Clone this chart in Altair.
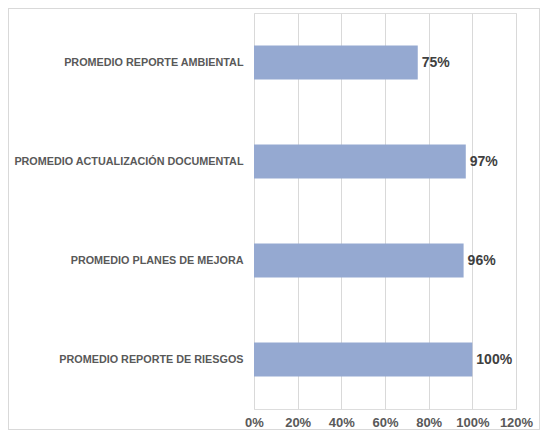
import altair as alt
import pandas as pd

categories = [
    "PROMEDIO REPORTE AMBIENTAL",
    "PROMEDIO ACTUALIZACIÓN DOCUMENTAL",
    "PROMEDIO PLANES DE MEJORA",
    "PROMEDIO REPORTE DE RIESGOS",
]
values = [0.75, 0.97, 0.96, 1.00]
tick_values = [0, 0.2, 0.4, 0.6, 0.8, 1.0, 1.2]

df = pd.DataFrame({"cat": categories, "val": values})

FONT = "Liberation Sans"

x = alt.X(
    "val:Q",
    scale=alt.Scale(domain=[0, 1.2], nice=False, zero=True),
    axis=alt.Axis(
        values=tick_values,
        format=".0%",
        title=None,
        domain=False,
        ticks=False,
        grid=True,
        gridColor="#D9D9D9",
        gridWidth=1,
        labelFont=FONT,
        labelFontSize=13,
        labelFontWeight="bold",
        labelColor="#595959",
        labelPadding=7,
        labelOverlap=False,
        labelFlush=False,
    ),
)
y = alt.Y(
    "cat:N",
    sort=categories,
    scale=alt.Scale(paddingInner=0.657, paddingOuter=0.3285),
    axis=alt.Axis(
        title=None,
        domain=False,
        ticks=False,
        grid=False,
        labelFont=FONT,
        labelFontSize=10.8,
        labelFontWeight="bold",
        labelColor="#595959",
        labelPadding=11,
        labelLimit=300,
    ),
)

bars = alt.Chart(df).mark_bar(color="#95A9D1").encode(x=x, y=y)

text = alt.Chart(df).mark_text(
    align="left", baseline="middle", dx=4, font=FONT, fontSize=14,
    fontWeight="bold", color="#404040"
).encode(
    x=alt.X("val:Q"),
    y=alt.Y("cat:N", sort=categories),
    text=alt.Text("val:Q", format=".0%"),
)

border = alt.Chart(df).mark_rect(
    fill=None, stroke="#D9D9D9", strokeWidth=1
).encode(
    x=alt.value(-245.5), x2=alt.value(285.5),
    y=alt.value(-4.5), y2=alt.value(416.5),
)

chart = alt.layer(border, bars, text).properties(
    width=262,
    height=396,
    autosize=alt.AutoSizeParams(type="none"),
    padding={"left": 246, "top": 5, "right": 27, "bottom": 21},
).configure_view(stroke=None).configure(background="white")

chart.save("out.html", embed_options={"renderer": "svg", "actions": False})
